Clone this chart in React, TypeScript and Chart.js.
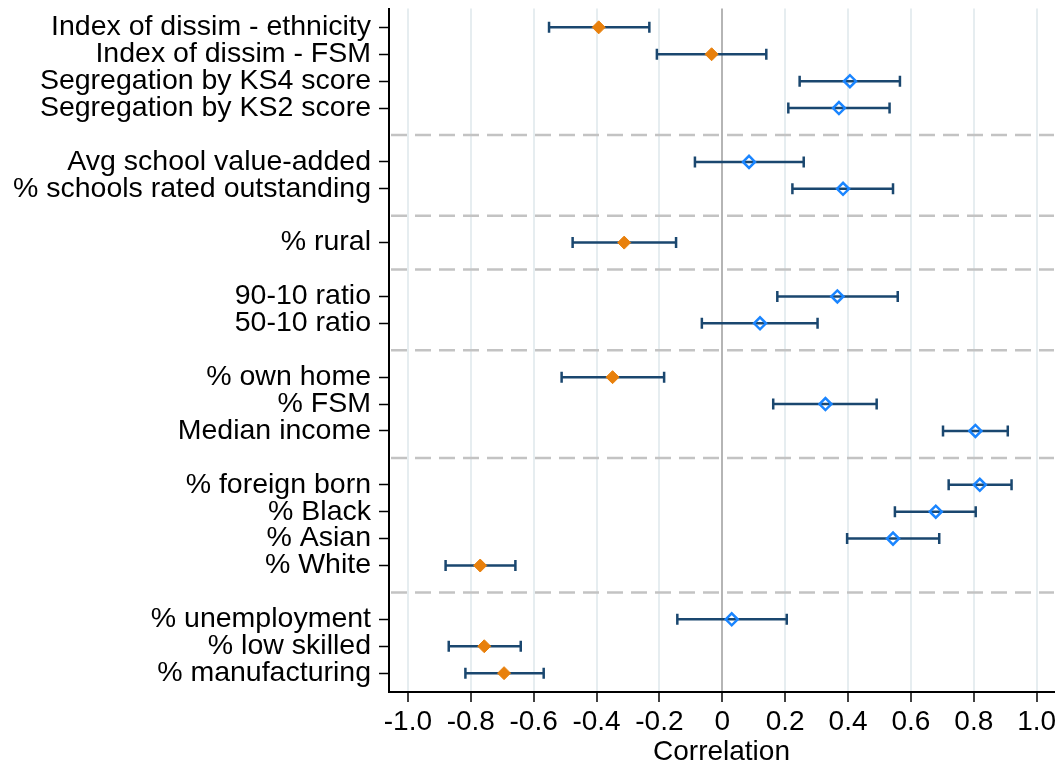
import React, { useEffect, useRef } from "react";
import { Chart, registerables } from "chart.js";

Chart.register(...registerables);

// "" marks a separator row (dashed line, no tick)
const categories: string[] = [
  "Index of dissim - ethnicity",
  "Index of dissim - FSM",
  "Segregation by KS4 score",
  "Segregation by KS2 score",
  "",
  "Avg school value-added",
  "% schools rated outstanding",
  "",
  "% rural",
  "",
  "90-10 ratio",
  "50-10 ratio",
  "",
  "% own home",
  "% FSM",
  "Median income",
  "",
  "% foreign born",
  "% Black",
  "% Asian",
  "% White",
  "",
  "% unemployment",
  "% low skilled",
  "% manufacturing",
];

const estimates: (number | null)[] = [
  -0.393, -0.034, 0.406, 0.371, null,
  0.085, 0.384, null,
  -0.312, null,
  0.366, 0.12, null,
  -0.349, 0.328, 0.805, null,
  0.819, 0.679, 0.543, -0.77, null,
  0.03, -0.757, -0.694,
];

const lowerCI: (number | null)[] = [
  -0.551, -0.208, 0.246, 0.21, null,
  -0.087, 0.223, null,
  -0.476, null,
  0.175, -0.065, null,
  -0.511, 0.162, 0.702, null,
  0.72, 0.549, 0.397, -0.88, null,
  -0.143, -0.87, -0.817,
];

const upperCI: (number | null)[] = [
  -0.232, 0.14, 0.565, 0.532, null,
  0.259, 0.543, null,
  -0.147, null,
  0.558, 0.303, null,
  -0.185, 0.491, 0.908, null,
  0.92, 0.806, 0.69, -0.658, null,
  0.205, -0.641, -0.568,
];

const xTicks: number[] = [-1.0, -0.8, -0.6, -0.4, -0.2, 0, 0.2, 0.4, 0.6, 0.8, 1.0];

const FONT = "'Liberation Sans', Arial, Helvetica, sans-serif";

export default function App() {
  const ref = useRef<HTMLCanvasElement>(null);

  useEffect(() => {
    if (!ref.current) return;
    const negData: { x: number; y: number }[] = [];
    const posData: { x: number; y: number }[] = [];
    estimates.forEach((v, i) => {
      if (v === null) return;
      (v < 0 ? negData : posData).push({ x: v, y: i });
    });
    const labelRows = categories.map((c, i) => (c === "" ? -1 : i)).filter((i) => i >= 0);

    const errorBars = {
      id: "errorBars",
      beforeDatasetsDraw(chart: any) {
        const { ctx, chartArea } = chart;
        const x = chart.scales.x;
        const y = chart.scales.y;
        ctx.save();
        ctx.strokeStyle = "#c3c3c3";
        ctx.lineWidth = 2.5;
        ctx.setLineDash([16, 8]);
        categories.forEach((c, i) => {
          if (c !== "") return;
          const py = y.getPixelForValue(i);
          ctx.beginPath();
          ctx.moveTo(chartArea.left + 2, py);
          ctx.lineTo(chartArea.right, py);
          ctx.stroke();
        });
        ctx.setLineDash([]);
        ctx.strokeStyle = "#1a476f";
        ctx.lineWidth = 2.5;
        estimates.forEach((v, i) => {
          if (v === null) return;
          const lo = lowerCI[i] as number;
          const hi = upperCI[i] as number;
          const py = y.getPixelForValue(i);
          const x1 = x.getPixelForValue(lo);
          const x2 = x.getPixelForValue(hi);
          ctx.beginPath();
          ctx.moveTo(x1, py);
          ctx.lineTo(x2, py);
          ctx.moveTo(x1, py - 5.5);
          ctx.lineTo(x1, py + 5.5);
          ctx.moveTo(x2, py - 5.5);
          ctx.lineTo(x2, py + 5.5);
          ctx.stroke();
        });
        ctx.restore();
      },
    };

    const chart = new Chart(ref.current, {
      type: "scatter",
      data: {
        datasets: [
          {
            data: negData,
            pointStyle: "rectRot",
            pointRadius: 6.5,
            backgroundColor: "#e8800c",
            borderColor: "#e8800c",
            borderWidth: 1,
          },
          {
            data: posData,
            pointStyle: "rectRot",
            pointRadius: 6,
            backgroundColor: "rgba(255,255,255,0)",
            borderColor: "#1a85ff",
            borderWidth: 2.5,
          },
        ],
      },
      options: {
        animation: false,
        responsive: false,
        events: [],
        layout: { padding: { top: 7, right: 10, left: 0, bottom: 0 } },
        plugins: { legend: { display: false }, tooltip: { enabled: false } },
        scales: {
          x: {
            type: "linear",
            min: -1.06,
            max: 1.055,
            afterFit: (s: any) => {
              s.height = 78;
              s.paddingLeft = 0;
              s.paddingRight = 0;
            },
            afterBuildTicks: (s: any) => {
              s.ticks = xTicks.map((v) => ({ value: v }));
            },
            ticks: {
              autoSkip: false,
              maxRotation: 0,
              padding: 3,
              color: "#000",
              font: { family: FONT, size: 28 },
              callback: (v: any) => (Math.abs(Number(v)) < 1e-9 ? "0" : Number(v).toFixed(1)),
            },
            grid: {
              color: (c: any) => (c.tick && Math.abs(c.tick.value) < 1e-9 ? "#b5b5b5" : "#e6edf0"),
              lineWidth: 2,
              drawTicks: true,
              tickLength: 10,
              tickColor: "#000",
              tickWidth: 1.5,
            },
            border: { display: true, color: "#000", width: 2 },
            title: {
              display: true,
              text: "Correlation",
              color: "#000",
              font: { family: FONT, size: 28 },
              padding: { top: 0, bottom: 1 },
            },
          },
          y: {
            type: "linear",
            reverse: true,
            min: -0.7,
            max: 24.7,
            afterFit: (s: any) => {
              s.width = 389;
              s.paddingTop = 0;
              s.paddingBottom = 0;
            },
            afterBuildTicks: (s: any) => {
              s.ticks = labelRows.map((v) => ({ value: v }));
            },
            ticks: {
              autoSkip: false,
              padding: 8,
              color: "#000",
              font: { family: FONT, size: 28.5 },
              callback: (v: any) => categories[Math.round(Number(v))] ?? "",
            },
            grid: {
              drawOnChartArea: false,
              drawTicks: true,
              tickLength: 10,
              tickColor: "#000",
              tickWidth: 1.5,
            },
            border: { display: true, color: "#000", width: 2 },
          },
        },
      },
      plugins: [errorBars],
    } as any);

    return () => chart.destroy();
  }, []);

  return (
    <div style={{ position: "absolute", left: 0, top: 0, width: 1064, height: 770, background: "#fff" }}>
      <canvas ref={ref} width={1064} height={770} style={{ display: "block" }} />
    </div>
  );
}
